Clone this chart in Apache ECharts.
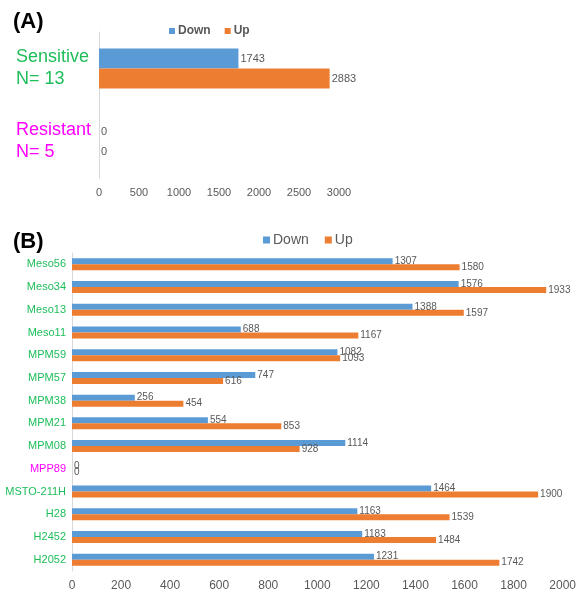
<!DOCTYPE html>
<html>
<head>
<meta charset="utf-8">
<script src="https://cdn.jsdelivr.net/npm/echarts@6/dist/echarts.min.js"></script>
<style>
  html, body { margin: 0; padding: 0; background: #fff; }
  #chart { width: 579px; height: 599px; }
</style>
</head>
<body>
<div id="chart"></div>
<script>
// panel A
const groupsA = ['Sensitive\nN= 13', 'Resistant\nN= 5'];
const downA = [1743, 0];
const upA = [2883, 0];
const ticksA = [0, 3000, 500];

// panel B
const cellLines = ['Meso56', 'Meso34', 'Meso13', 'Meso11', 'MPM59', 'MPM57', 'MPM38',
  'MPM21', 'MPM08', 'MPP89', 'MSTO-211H', 'H28', 'H2452', 'H2052'];
const downB = [1307, 1576, 1388, 688, 1082, 747, 256, 554, 1114, 0, 1464, 1163, 1183, 1231];
const upB = [1580, 1933, 1597, 1167, 1093, 616, 454, 853, 928, 0, 1900, 1539, 1484, 1742];
const resistantB = ['MPP89'];
const ticksB = [0, 2000, 200];

const BLUE = '#5B9BD5';
const ORANGE = '#ED7D31';
const GREEN = '#1EBE5A';
const MAGENTA = '#FF00FF';
const GREY = '#595959';
const FONT = 'Liberation Sans, Arial, sans-serif';

const chart = echarts.init(document.getElementById('chart'));

function valueAxis(idx, t, size) {
  return {
    gridIndex: idx, type: 'value', min: t[0], max: t[1], interval: t[2],
    axisLine: { show: false }, axisTick: { show: false }, splitLine: { show: false },
    axisLabel: { color: GREY, fontSize: size, fontFamily: FONT, margin: 9, formatter: (v) => String(v) }
  };
}

function barSeries(name, data, xi, color, width, size) {
  return {
    name, type: 'bar', xAxisIndex: xi, yAxisIndex: xi, data,
    barWidth: width, barGap: 0,
    itemStyle: { color },
    label: { show: true, position: 'right', distance: 2, color: GREY, fontSize: size, fontFamily: FONT },
    emphasis: { disabled: true }
  };
}

const option = {
  animation: false,
  textStyle: { fontFamily: FONT },
  title: [
    { text: '(A)', left: 8, top: 6, textStyle: { fontSize: 22, fontWeight: 'bold', color: '#000', fontFamily: FONT } },
    { text: '(B)', left: 8, top: 226, textStyle: { fontSize: 22, fontWeight: 'bold', color: '#000', fontFamily: FONT } }
  ],
  legend: [
    { left: 164, top: 20, itemWidth: 6, itemHeight: 6, itemGap: 14, icon: 'rect',
      textStyle: { fontSize: 12, fontWeight: 'bold', color: GREY, padding: [0, 0, 0, -2] },
      data: ['Down', 'Up'] },
    { left: 258, top: 228, itemWidth: 7, itemHeight: 7, itemGap: 16, icon: 'rect',
      textStyle: { fontSize: 14, color: GREY, padding: [0, 0, 0, -2] },
      data: ['Down', 'Up'] }
  ],
  grid: [
    { left: 99, width: 240, top: 32, height: 146 },
    { left: 72, width: 493, top: 253, height: 318 }
  ],
  xAxis: [valueAxis(0, ticksA, 11), valueAxis(1, ticksB, 12)],
  yAxis: [
    {
      gridIndex: 0, type: 'category', data: groupsA, inverse: true,
      axisLine: { lineStyle: { color: '#D9D9D9' } }, axisTick: { show: false },
      axisLabel: {
        align: 'left', margin: 83, fontSize: 18, lineHeight: 22, fontFamily: FONT,
        color: (v) => v.indexOf('Resistant') === 0 ? MAGENTA : GREEN
      }
    },
    {
      gridIndex: 1, type: 'category', data: cellLines, inverse: true,
      axisLine: { lineStyle: { color: '#D9D9D9' } }, axisTick: { show: false },
      axisLabel: {
        margin: 6, fontSize: 11, fontFamily: FONT,
        color: (v) => resistantB.includes(v) ? MAGENTA : GREEN
      }
    }
  ],
  series: [
    barSeries('Down', downA, 0, BLUE, 20, 11),
    barSeries('Up', upA, 0, ORANGE, 20, 11),
    barSeries('Down', downB, 1, BLUE, 6, 10),
    barSeries('Up', upB, 1, ORANGE, 6, 10)
  ]
};

chart.setOption(option);
window.addEventListener('resize', () => chart.resize(), false);
</script>
</body>
</html>
